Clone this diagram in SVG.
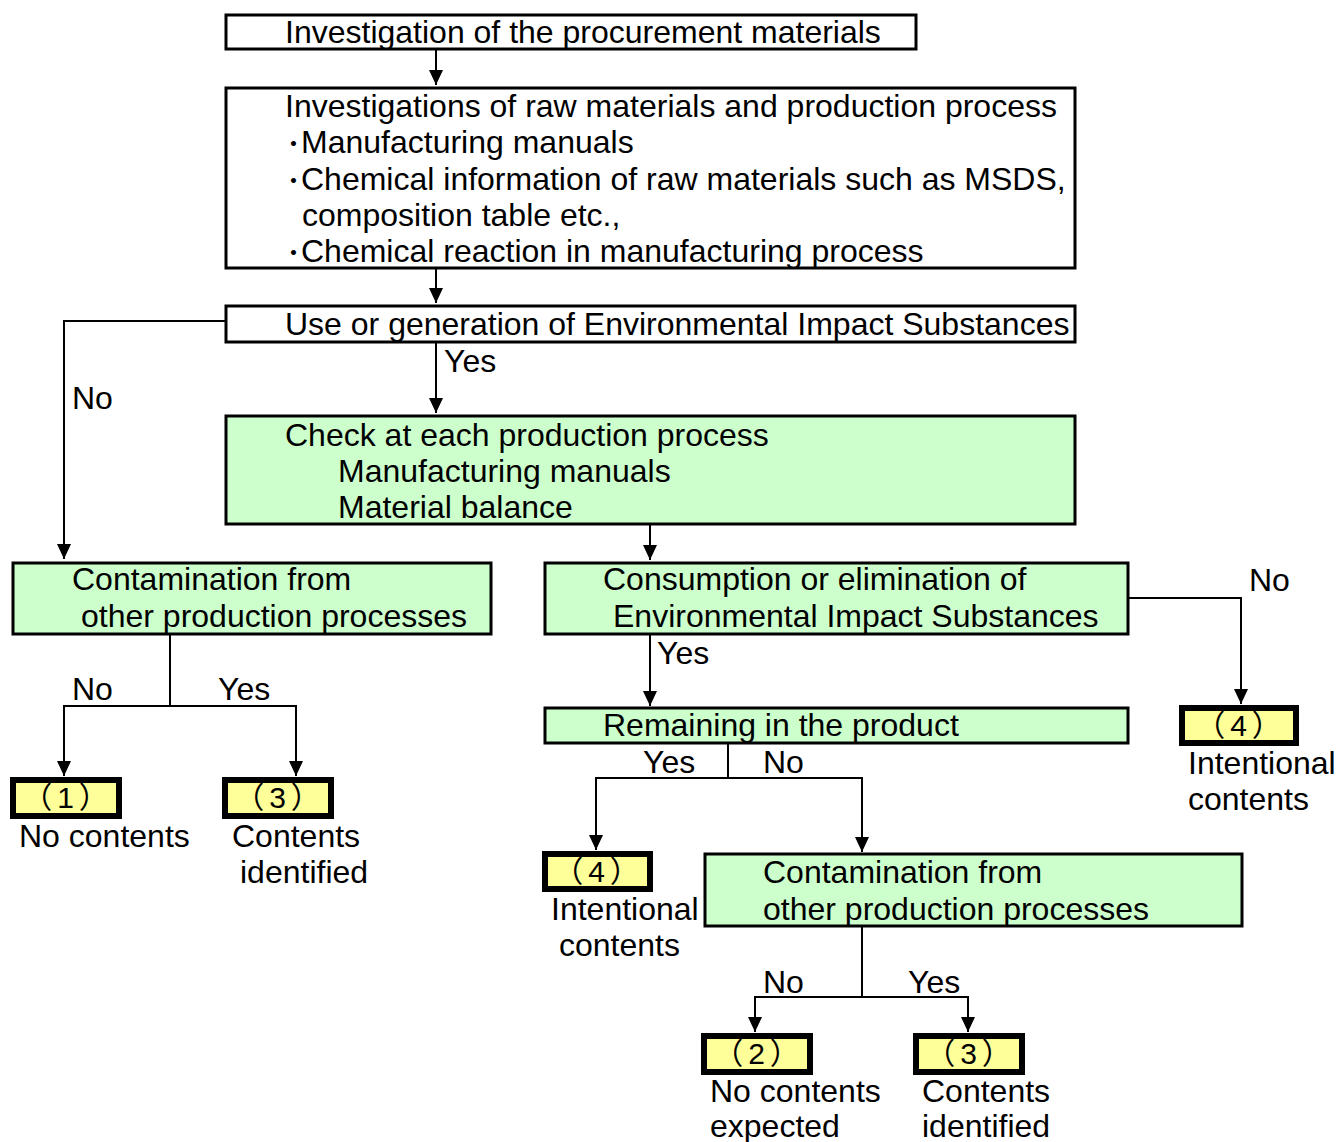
<svg xmlns="http://www.w3.org/2000/svg" width="1338" height="1142" viewBox="0 0 1338 1142">
<style>
text{font-family:"Liberation Sans",Arial,"Noto Sans CJK JP",sans-serif;font-size:32px;fill:#000}
.num{font-size:30px;text-anchor:middle;letter-spacing:5px}
.bul{font-family:"Noto Sans CJK JP","Liberation Sans",sans-serif;font-weight:bold;font-size:26px}
.wbox{fill:#fff;stroke:#000;stroke-width:3}
.gbox{fill:#ccffcc;stroke:#000;stroke-width:3}
.ybox{fill:#ffff99;stroke:#000;stroke-width:6}
.con{fill:none;stroke:#000;stroke-width:2}
</style>
<defs>
<marker id="arr" markerUnits="userSpaceOnUse" markerWidth="16" markerHeight="16" refX="15" refY="7" orient="auto">
<path d="M0,0 L15,7 L0,14 z" fill="#000"/>
</marker>
</defs>
<rect width="1338" height="1142" fill="#fff"/>
<g id="connectors">
<path class="con" d="M436,50 V85" marker-end="url(#arr)"/>
<path class="con" d="M436,268 V303" marker-end="url(#arr)"/>
<path class="con" d="M225,321 H64 V559" marker-end="url(#arr)"/>
<path class="con" d="M436,342 V413" marker-end="url(#arr)"/>
<path class="con" d="M650,524 V560" marker-end="url(#arr)"/>
<path class="con" d="M170,634 V706"/>
<path class="con" d="M170,706 H64 V776" marker-end="url(#arr)"/>
<path class="con" d="M170,706 H296 V776" marker-end="url(#arr)"/>
<path class="con" d="M1128,598 H1241 V704" marker-end="url(#arr)"/>
<path class="con" d="M650,634 V706" marker-end="url(#arr)"/>
<path class="con" d="M728,743 V778"/>
<path class="con" d="M728,778 H596 V850" marker-end="url(#arr)"/>
<path class="con" d="M728,778 H862 V852" marker-end="url(#arr)"/>
<path class="con" d="M862,926 V997"/>
<path class="con" d="M862,997 H755 V1032" marker-end="url(#arr)"/>
<path class="con" d="M862,997 H968 V1032" marker-end="url(#arr)"/>
<text x="72" y="409">No</text>
<text x="444" y="372">Yes</text>
<text x="72" y="700">No</text>
<text x="218" y="700">Yes</text>
<text x="1249" y="591">No</text>
<text x="657" y="664">Yes</text>
<text x="643" y="773">Yes</text>
<text x="763" y="773">No</text>
<text x="763" y="993">No</text>
<text x="908" y="993">Yes</text>
</g>
<g id="n-procurement">
<rect class="wbox" x="226" y="15" width="690" height="34"/>
<text x="285" y="43">Investigation of the procurement materials</text>
</g>
<g id="n-raw">
<rect class="wbox" x="226" y="88" width="849" height="180"/>
<text x="285" y="117">Investigations of raw materials and production process</text>
<text class="bul" x="287" y="153">･</text>
<text x="301" y="153">Manufacturing manuals</text>
<text class="bul" x="287" y="190">･</text>
<text x="301" y="190">Chemical information of raw materials such as MSDS,</text>
<text x="302" y="226">composition table etc.,</text>
<text class="bul" x="287" y="262">･</text>
<text x="301" y="262">Chemical reaction in manufacturing process</text>
</g>
<g id="n-use">
<rect class="wbox" x="226" y="306" width="849" height="36"/>
<text x="285" y="335">Use or generation of Environmental Impact Substances</text>
</g>
<g id="n-check">
<rect class="gbox" x="226" y="416" width="849" height="108"/>
<text x="285" y="446">Check at each production process</text>
<text x="338" y="482">Manufacturing manuals</text>
<text x="338" y="518">Material balance</text>
</g>
<g id="n-contam1">
<rect class="gbox" x="13" y="563" width="478" height="71"/>
<text x="72" y="590">Contamination from</text>
<text x="81" y="627">other production processes</text>
</g>
<g id="n-consumption">
<rect class="gbox" x="545" y="563" width="583" height="71"/>
<text x="603" y="590">Consumption or elimination of</text>
<text x="613" y="627">Environmental Impact Substances</text>
</g>
<g id="n-remaining">
<rect class="gbox" x="545" y="708" width="583" height="35"/>
<text x="603" y="736">Remaining in the product</text>
</g>
<g id="n-contam2">
<rect class="gbox" x="705" y="854" width="537" height="72"/>
<text x="763" y="883">Contamination from</text>
<text x="763" y="920">other production processes</text>
</g>
<g id="r1">
<rect class="ybox" x="13" y="780" width="106" height="36"/>
<text class="num" x="68" y="808">（1）</text>
<text x="19" y="847">No contents</text>
</g>
<g id="r3a">
<rect class="ybox" x="225" y="780" width="106" height="36"/>
<text class="num" x="280" y="808">（3）</text>
<text x="232" y="847">Contents</text>
<text x="240" y="883">identified</text>
</g>
<g id="r4a">
<rect class="ybox" x="1182" y="708" width="114" height="35"/>
<text class="num" x="1241" y="736">（4）</text>
<text x="1188" y="774">Intentional</text>
<text x="1188" y="810">contents</text>
</g>
<g id="r4b">
<rect class="ybox" x="545" y="854" width="105" height="35"/>
<text class="num" x="599" y="882">（4）</text>
<text x="551" y="920">Intentional</text>
<text x="559" y="956">contents</text>
</g>
<g id="r2">
<rect class="ybox" x="704" y="1036" width="106" height="36"/>
<text class="num" x="759" y="1064">（2）</text>
<text x="710" y="1102">No contents</text>
<text x="710" y="1137">expected</text>
</g>
<g id="r3b">
<rect class="ybox" x="916" y="1036" width="106" height="36"/>
<text class="num" x="971" y="1064">（3）</text>
<text x="922" y="1102">Contents</text>
<text x="922" y="1137">identified</text>
</g>
</svg>
